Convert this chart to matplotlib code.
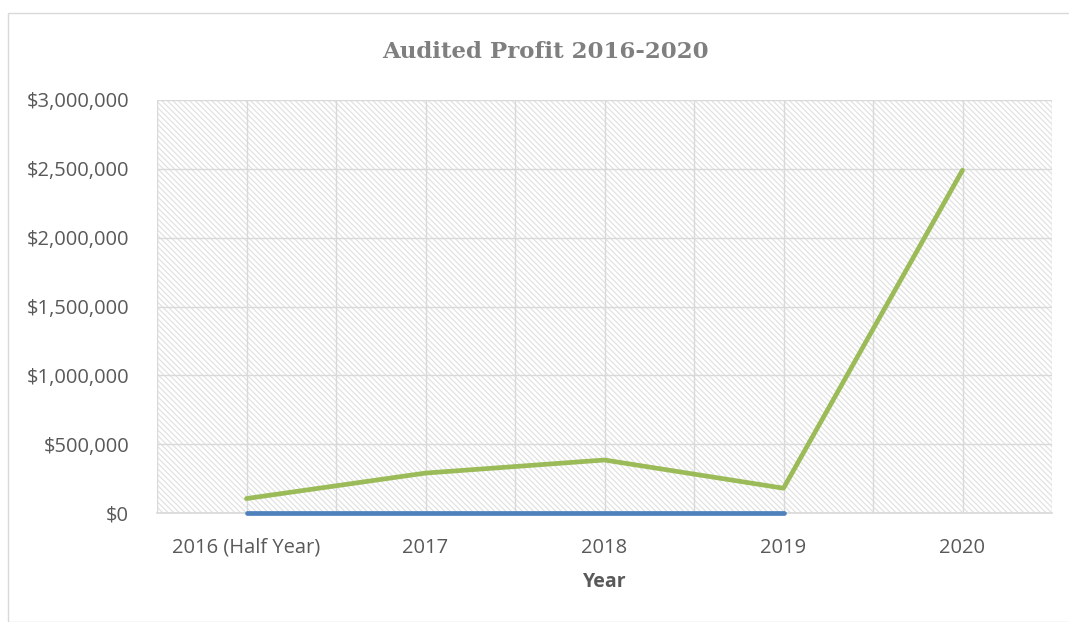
import numpy as np
import matplotlib

matplotlib.use('Agg')
import matplotlib.pyplot as plt
from matplotlib.patches import Rectangle
from matplotlib.ticker import FuncFormatter, MultipleLocator

plt.rcParams['font.family'] = ['Open Sans', 'DejaVu Sans']
plt.rcParams['hatch.color'] = '#e2e2e2'
plt.rcParams['hatch.linewidth'] = 0.9

# --- 데이터 ---
years = ['2016 (Half Year)', '2017', '2018', '2019', '2020']
profit = [105000, 290000, 385000, 180000, 2490000]
baseline = [0, 0, 0, 0]

GREEN = '#9bbb59'
BLUE = '#4f81bd'
GRID = '#d9d9d9'
TEXT = '#595959'

fig = plt.figure(figsize=(10.69, 6.22), dpi=100)
ax = fig.add_axes([157 / 1069, 109 / 622, 895 / 1069, 413 / 622])

# 바깥 차트 테두리
fig.patches.append(Rectangle((8 / 1069, 0), 1.2, 609 / 622, transform=fig.transFigure,
                             fill=False, edgecolor=GRID, linewidth=1.0, zorder=0))

# 빗금 배경
ax.add_patch(Rectangle((0, 0), 1, 1, transform=ax.transAxes, facecolor='white',
                       edgecolor='#e2e2e2', hatch='\\' * 6, linewidth=0, zorder=0))

x = np.arange(len(years))
ax.plot(x, profit, color=GREEN, linewidth=3.4, solid_capstyle='round', zorder=3)
ax.plot(x[:len(baseline)], baseline, color=BLUE, linewidth=3.4,
        solid_capstyle='round', zorder=4, clip_on=False)

ax.set_xlim(-0.5, len(years) - 0.5)
ax.set_ylim(0, 3000000)
ax.set_xticks(x)
ax.set_xticklabels(years)
ax.xaxis.set_minor_locator(MultipleLocator(0.5))
ax.yaxis.set_major_locator(MultipleLocator(500000))
ax.yaxis.set_major_formatter(FuncFormatter(lambda v, p: f'${v:,.0f}'))

ax.grid(True, axis='y', which='major', color=GRID, linewidth=1.0, zorder=1)
ax.grid(True, axis='x', which='both', color=GRID, linewidth=1.0, zorder=1)
ax.set_axisbelow(True)

for s in ['top', 'right', 'left']:
    ax.spines[s].set_visible(False)
ax.spines['bottom'].set_color(GRID)
ax.spines['bottom'].set_linewidth(1.2)

ax.tick_params(axis='both', which='both', length=0, labelsize=14.5, colors=TEXT)
ax.tick_params(axis='x', pad=18)
ax.tick_params(axis='y', pad=20)

ax.set_xlabel('Year', fontsize=14, fontweight='bold', color=TEXT, labelpad=10)
fig.text(545 / 1069, 1 - 52 / 622, 'Audited Profit 2016-2020', ha='center', va='center',
         fontsize=16.5, fontweight='bold', color='#7f7f7f', family=['DejaVu Serif'])

plt.savefig('out.png', dpi=100)
plt.close()
